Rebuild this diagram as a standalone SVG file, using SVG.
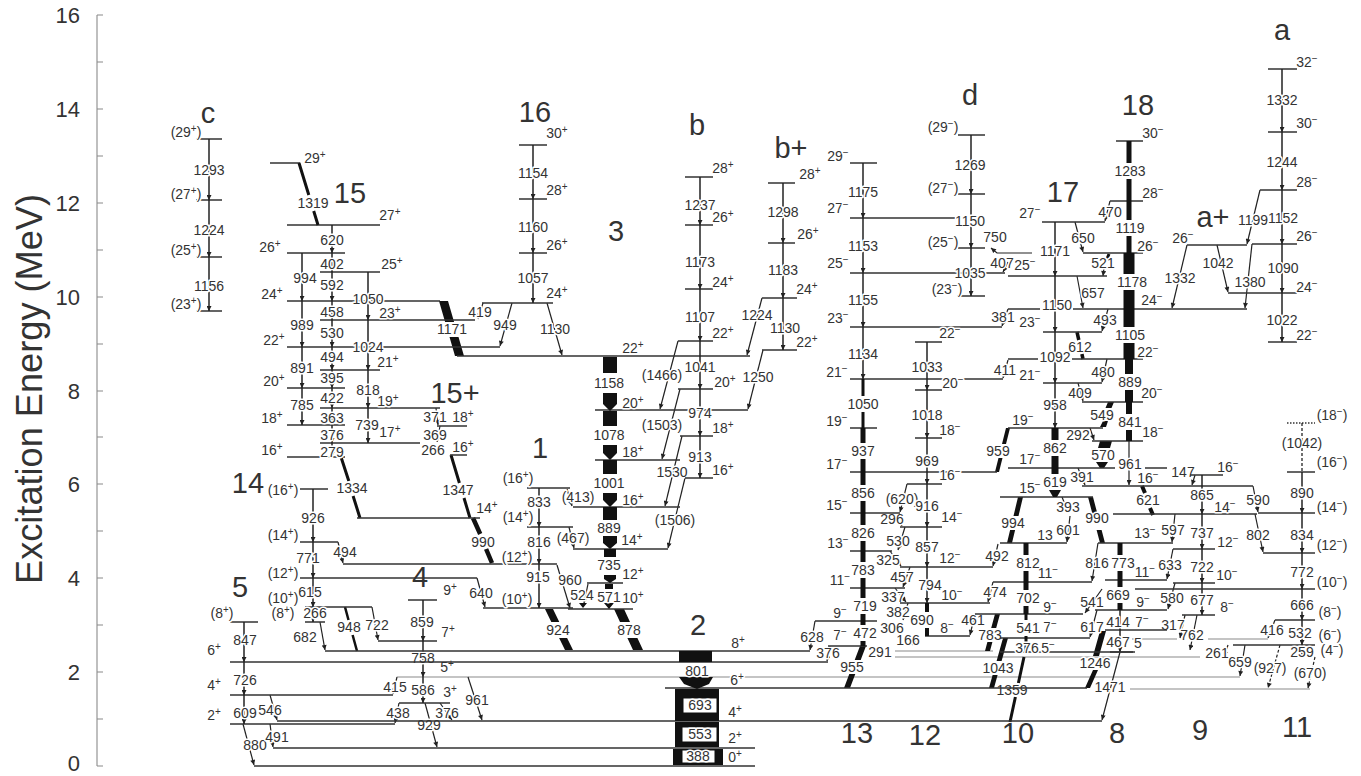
<svg xmlns="http://www.w3.org/2000/svg" width="1361" height="776" viewBox="0 0 1361 776">
<defs>
<marker id="ah" markerUnits="userSpaceOnUse" viewBox="0 0 6 6" refX="6" refY="3" markerWidth="6" markerHeight="5" orient="auto"><path d="M0,0L6,3L0,6z" fill="#222"/></marker>
<style>
.lv{stroke:#333;stroke-width:1.3;fill:none}
.lg{stroke:#8a8a8a;stroke-width:1.1;fill:none}
.tr{stroke:#222;stroke-width:1.2;fill:none;marker-end:url(#ah)}
.tv{stroke:#222;stroke-width:1.5;fill:none;marker-mid:url(#ah);marker-end:url(#ah)}
.tb{stroke:#111;fill:none}
.tk{fill:#111;stroke:none}
.ds{stroke-dasharray:3 2}
.dt{stroke-dasharray:1.5 1.5}
text{font-family:"Liberation Sans",Arial,sans-serif;fill:#333}
.n{font-size:14px;text-anchor:middle;paint-order:stroke;stroke:#fff;stroke-width:3px;stroke-linejoin:round}
.u{font-size:10px}
.b{font-size:29px;text-anchor:middle}
.ax{font-size:22px;text-anchor:end}
.bx{fill:#fff;stroke:#111;stroke-width:1}
</style>
</defs>
<rect width="1361" height="776" fill="#fff"/>
<g id="axis">
<line class="lg" x1="97" y1="15" x2="97" y2="766"/>
<path class="lg" d="M97,766h6M97,719h6M97,672h6M97,625h6M97,578h6M97,531h6M97,484h6M97,437h6M97,391h6M97,344h6M97,297h6M97,250h6M97,203h6M97,156h6M97,109h6M97,62h6M97,15h6"/>
<text class="ax" x="80" y="771">0</text>
<text class="ax" x="80" y="680">2</text>
<text class="ax" x="80" y="586">4</text>
<text class="ax" x="80" y="492">6</text>
<text class="ax" x="80" y="399">8</text>
<text class="ax" x="80" y="305">10</text>
<text class="ax" x="80" y="211">12</text>
<text class="ax" x="80" y="117">14</text>
<text class="ax" x="80" y="23">16</text>
<text transform="translate(42,389) rotate(-90)" style="font-size:36px;text-anchor:middle" textLength="390" lengthAdjust="spacingAndGlyphs">Excitation Energy (MeV)</text>
</g>
<g id="connectors">
<path class="lg" d="M397,677H1240M895,651H993M895,657H1200M1130,689H1310M1132,639H1177M1208,639H1268"/>
<path class="tr" d="M243,724L254,765"/>
<path class="tr" d="M270,695L277,720"/>
<path class="tr" d="M270,724L273,747"/>
<path class="tr" d="M320,622L325,650"/>
<path class="tr" d="M338,542L343,563"/>
<path class="tr" d="M372,607L378,640"/>
<path class="tr" d="M397,677L393,694"/>
<path class="tr" d="M399,703L395,723"/>
<path class="tr" d="M425,703L437,747"/>
<path class="tr" d="M440,703L452,720"/>
<path class="tr" d="M468,677L482,720"/>
<path class="tr" d="M477,578L485,607"/>
<path class="tr" d="M557,565L570,608"/>
<path class="tr" d="M567,489L572,506"/>
<path class="tr" d="M569,527L574,548"/>
<path class="tr" d="M483,303L478,319"/>
<path class="tr" d="M512,303L500,346"/>
<path class="tr" d="M547,303L562,355"/>
<path class="tr" d="M678,341L660,409"/>
<path class="tr" d="M680,389L662,459"/>
<path class="tr" d="M682,436L665,506"/>
<path class="tr" d="M685,478L668,548"/>
<path class="tr" d="M762,298L747,355"/>
<path class="tr" d="M763,350L748,409"/>
<path class="tr" d="M815,621L810,650"/>
<path class="tr" d="M830,646L827,661"/>
<path class="tr" d="M907,484L900,512"/>
<path class="tr" d="M893,513L902,526"/>
<path class="tr" d="M905,527L898,550"/>
<path class="tr" d="M890,551L901,566"/>
<path class="tr" d="M910,567L903,587"/>
<path class="tr" d="M895,588L906,602"/>
<path class="tr" d="M908,603L903,620"/>
<path class="tr" d="M915,636L912,645"/>
<path class="tr" d="M975,614L970,635"/>
<path class="tr" d="M998,544L993,566"/>
<path class="tr" d="M993,582L988,602"/>
<path class="tr" d="M1008,360L1003,378"/>
<path class="tr" d="M1008,309L1002,326"/>
<path class="tr" d="M1032,253H997L991,248"/>
<path class="tr" d="M1008,262L1003,272"/>
<path class="tr" d="M1110,201L1105,221"/>
<path class="tr" d="M1075,222L1083,252"/>
<path class="tr" d="M1077,276L1083,308"/>
<path class="tr" d="M1108,309L1102,331"/>
<path class="tr" d="M1107,359L1102,382"/>
<path class="tr" d="M1078,383L1083,401"/>
<path class="tr" d="M1090,428L1094,440"/>
<path class="tr" d="M1078,468L1085,485"/>
<path class="tr" d="M1195,475L1192,485"/>
<path class="tr" d="M1253,486L1258,512"/>
<path class="tr" d="M1175,514L1172,542"/>
<path class="tr" d="M1062,497L1068,512"/>
<path class="tr" d="M1070,516L1067,542"/>
<path class="tr" d="M1098,543L1092,581"/>
<path class="tr" d="M1173,549L1167,579"/>
<path class="tr" d="M1102,589L1085,613"/>
<path class="tr" d="M1175,583L1168,609"/>
<path class="tr" d="M1097,610L1090,637"/>
<path class="tr" d="M1185,615L1180,638"/>
<path class="tr" d="M1197,615L1190,650"/>
<path class="tr" d="M1275,620L1268,638"/>
<path class="tr" d="M1120,652L1102,720"/>
<path class="tr" d="M1245,645L1240,676"/>
<path class="tr" d="M1228,645L1224,656"/>
<path class="tr ds" d="M1280,645L1268,688"/>
<path class="tr ds" d="M1315,657L1308,688"/>
<path class="tr" d="M1260,190L1247,244"/>
<path class="tr" d="M1217,245L1228,292"/>
<path class="tr" d="M1187,245L1172,308"/>
<path class="tr" d="M1252,244L1245,308"/>
<path class="tr" d="M1255,514L1263,552"/>
<path class="tr" d="M588,584L584,603"/>
<path class="tr" d="M436,408L438,425"/>
<path class="tr" d="M440,426L437,442"/>
<path class="tk" d="M439,301L448,301L454.1,322L445.1,322ZM449.5,337L458.5,337L464,356L455,356Z"/>
<path class="tb" stroke-width="3" d="M341,457L348.8,481M353.1,496L360,518"/>
<path class="tb" stroke-width="3" d="M451,455L459.4,483M464,498L470,518"/>
<path class="tb" stroke-width="4.5" d="M473,518L480.2,534M486.1,549L492,563"/>
<path class="tb" stroke-width="2.5" d="M345,607L348.5,620M352.6,635L357,651"/>
<path class="tk" d="M545,609L553,609L559.3,622L551.3,622ZM559.1,638L567.1,638L573,650L565,650Z"/>
<path class="tk" d="M614,609L624,609L630,622L620,622ZM627.4,638L637.4,638L643,650L633,650Z"/>
<path class="tk" d="M860,646L866,646L860.7,660L854.7,660ZM849.3,674L855.3,674L850,688L844,688Z"/>
<path class="tk" d="M995,614L1000,614L996.2,628L991.2,628ZM987.4,642L992.4,642L990,651L985,651Z"/>
<path class="tk" d="M1003,638L1008,638L1001.6,661L996.6,661ZM992.6,675L997.6,675L994,688L989,688Z"/>
<path class="tb" stroke-width="3" d="M1024,657L1018.4,683M1015.4,697L1010,722"/>
<path class="tk" d="M1006,428L1010,428L1006,444L1002,444ZM998.5,458L1002.5,458L999,472L995,472Z"/>
<path class="tk" d="M1018,497L1023,497L1018.5,516L1013.5,516ZM1010.1,530L1015.1,530L1012,543L1007,543Z"/>
<path class="tk" d="M1088,497L1093,497L1098,516L1093,516ZM1096.6,530L1101.6,530L1105,543L1100,543Z"/>
<path class="tb" stroke-width="3.5" d="M1077,332L1078.8,340M1081.9,354L1083,359"/>
<path class="tk" d="M1108,402L1114,402L1111.5,408L1105.5,408ZM1103,421L1108,421L1106,427L1100,427Z"/>
<path class="tk" d="M1100,441L1112,441L1110,448L1098,448ZM1096,462L1108,462L1104,468L1100,468Z"/>
<path class="tb" stroke-width="3" d="M1109,254L1107,259"/>
<path class="tr" d="M1104,268L1103,276"/>
<path class="tb" stroke-width="4" d="M1142,486L1145,493M1150,508L1153,515"/>
<path class="tk" d="M1100,631L1106,631L1099,656L1093,656ZM1093,670L1098,670L1090,688L1085,688Z"/>
<text class="n" x="255" y="750">880</text>
<text class="n" x="270" y="715">546</text>
<text class="n" x="277" y="742">491</text>
<text class="n" x="305" y="642">682</text>
<text class="n" x="345" y="557">494</text>
<text class="n" x="349" y="632">948</text>
<text class="n" x="377" y="630">722</text>
<text class="n" x="395" y="692">415</text>
<text class="n" x="398" y="718">438</text>
<text class="n" x="429" y="730">929</text>
<text class="n" x="447" y="718">376</text>
<text class="n" x="477" y="705">961</text>
<text class="n" x="481" y="598">640</text>
<text class="n" x="570" y="585">960</text>
<text class="n" x="578" y="502">(413)</text>
<text class="n" x="573" y="543">(467)</text>
<text class="n" x="480" y="317">419</text>
<text class="n" x="505" y="330">949</text>
<text class="n" x="555" y="334">1130</text>
<text class="n" x="452" y="334">1171</text>
<text class="n" x="352" y="493">1334</text>
<text class="n" x="458" y="495">1347</text>
<text class="n" x="483" y="547">990</text>
<text class="n" x="558" y="635">924</text>
<text class="n" x="629" y="635">878</text>
<text class="n" x="582" y="600">524</text>
<text class="n" x="662" y="380">(1466)</text>
<text class="n" x="662" y="430">(1503)</text>
<text class="n" x="672" y="477">1530</text>
<text class="n" x="675" y="525">(1506)</text>
<text class="n" x="757" y="320">1224</text>
<text class="n" x="758" y="382">1250</text>
<text class="n" x="812" y="642">628</text>
<text class="n" x="828" y="658">376</text>
<text class="n" x="852" y="672">955</text>
<text class="n" x="880" y="657">291</text>
<text class="n" x="902" y="504">(620)</text>
<text class="n" x="892" y="524">296</text>
<text class="n" x="898" y="546">530</text>
<text class="n" x="888" y="565">325</text>
<text class="n" x="902" y="582">457</text>
<text class="n" x="893" y="602">337</text>
<text class="n" x="898" y="617">382</text>
<text class="n" x="892" y="633">306</text>
<text class="n" x="908" y="645">166</text>
<text class="n" x="973" y="625">461</text>
<text class="n" x="997" y="561">492</text>
<text class="n" x="995" y="597">474</text>
<text class="n" x="990" y="640">783</text>
<text class="n" x="998" y="673">1043</text>
<text class="n" x="1012" y="695">1359</text>
<text class="n" x="998" y="456">959</text>
<text class="n" x="1003" y="322">381</text>
<text class="n" x="1005" y="375">411</text>
<text class="n" x="995" y="242">750</text>
<text class="n" x="1002" y="268">407</text>
<text class="n" x="1110" y="217">470</text>
<text class="n" x="1083" y="243">650</text>
<text class="n" x="1103" y="268">521</text>
<text class="n" x="1093" y="298">657</text>
<text class="n" x="1105" y="325">493</text>
<text class="n" x="1080" y="352">612</text>
<text class="n" x="1103" y="377">480</text>
<text class="n" x="1080" y="398">409</text>
<text class="n" x="1102" y="420">549</text>
<text class="n" x="1078" y="440">292</text>
<text class="n" x="1103" y="460">570</text>
<text class="n" x="1082" y="482">391</text>
<text class="n" x="1068" y="512">393</text>
<text class="n" x="1097" y="523">990</text>
<text class="n" x="1013" y="528">994</text>
<text class="n" x="1068" y="535">601</text>
<text class="n" x="1148" y="505">621</text>
<text class="n" x="1183" y="477">147</text>
<text class="n" x="1258" y="505">590</text>
<text class="n" x="1173" y="535">597</text>
<text class="n" x="1170" y="570">633</text>
<text class="n" x="1172" y="603">580</text>
<text class="n" x="1173" y="630">317</text>
<text class="n" x="1192" y="640">762</text>
<text class="n" x="1217" y="658">261</text>
<text class="n" x="1240" y="667">659</text>
<text class="n" x="1270" y="673">(927)</text>
<text class="n" x="1310" y="678">(670)</text>
<text class="n" x="1272" y="635">416</text>
<text class="n" x="1258" y="540">802</text>
<text class="n" x="1097" y="568">816</text>
<text class="n" x="1092" y="607">541</text>
<text class="n" x="1092" y="632">617</text>
<text class="n" x="1095" y="668">1246</text>
<text class="n" x="1110" y="692">1471</text>
<text class="n" x="1253" y="225">1199</text>
<text class="n" x="1250" y="287">1380</text>
<text class="n" x="1218" y="268">1042</text>
<text class="n" x="1180" y="283">1332</text>
<text class="n" x="435" y="422">371</text>
<text class="n" x="435" y="440">369</text>
<text class="n" x="433" y="455">266</text>
</g>
<g id="band-c">
<path class="lv" d="M196,139H222M196,200H222M196,257H222M196,311H222"/>
<path class="tv" d="M209,139V200V257V311"/>
<text class="n" x="209" y="175">1293</text>
<text class="n" x="209" y="235">1224</text>
<text class="n" x="209" y="291">1156</text>
<text class="n" x="186" y="137">(29<tspan class="u" dy="-5">+</tspan><tspan dy="5">)</tspan></text>
<text class="n" x="186" y="199">(27<tspan class="u" dy="-5">+</tspan><tspan dy="5">)</tspan></text>
<text class="n" x="186" y="255">(25<tspan class="u" dy="-5">+</tspan><tspan dy="5">)</tspan></text>
<text class="n" x="186" y="309">(23<tspan class="u" dy="-5">+</tspan><tspan dy="5">)</tspan></text>
<text class="b" x="208" y="123">c</text>
</g>
<g id="band-15">
<path class="lv" d="M270,163H300M287,225H380M287,253H345M320,272H380M287,301H440M320,320H475M287,347H500M320,370H380M287,388H345M320,408H440M287,425H345M320,443H420M287,457H345"/>
<path class="tb" stroke-width="3" d="M299,163L308.8,195M313.7,211L318,225"/>
<path class="tv" d="M302,253V301V347V388V425"/>
<path class="tv" d="M332,225V253V272V301V320V347V370V388V408V425V443V457"/>
<path class="tv" d="M368,272V320V370V408V443"/>
<text class="n" x="313" y="208">1319</text>
<text class="n" x="332" y="245">620</text>
<text class="n" x="332" y="269">402</text>
<text class="n" x="305" y="283">994</text>
<text class="n" x="332" y="290">592</text>
<text class="n" x="368" y="304">1050</text>
<text class="n" x="332" y="317">458</text>
<text class="n" x="302" y="330">989</text>
<text class="n" x="332" y="338">530</text>
<text class="n" x="368" y="352">1024</text>
<text class="n" x="332" y="362">494</text>
<text class="n" x="302" y="373">891</text>
<text class="n" x="332" y="383">395</text>
<text class="n" x="368" y="395">818</text>
<text class="n" x="332" y="403">422</text>
<text class="n" x="302" y="410">785</text>
<text class="n" x="332" y="423">363</text>
<text class="n" x="367" y="430">739</text>
<text class="n" x="332" y="440">376</text>
<text class="n" x="332" y="457">279</text>
<text class="n" x="315" y="163">29<tspan class="u" dy="-5">+</tspan></text>
<text class="n" x="390" y="220">27<tspan class="u" dy="-5">+</tspan></text>
<text class="n" x="270" y="252">26<tspan class="u" dy="-5">+</tspan></text>
<text class="n" x="392" y="269">25<tspan class="u" dy="-5">+</tspan></text>
<text class="n" x="272" y="299">24<tspan class="u" dy="-5">+</tspan></text>
<text class="n" x="390" y="318">23<tspan class="u" dy="-5">+</tspan></text>
<text class="n" x="274" y="345">22<tspan class="u" dy="-5">+</tspan></text>
<text class="n" x="388" y="367">21<tspan class="u" dy="-5">+</tspan></text>
<text class="n" x="274" y="386">20<tspan class="u" dy="-5">+</tspan></text>
<text class="n" x="388" y="406">19<tspan class="u" dy="-5">+</tspan></text>
<text class="n" x="272" y="423">18<tspan class="u" dy="-5">+</tspan></text>
<text class="n" x="390" y="437">17<tspan class="u" dy="-5">+</tspan></text>
<text class="n" x="272" y="455">16<tspan class="u" dy="-5">+</tspan></text>
<text class="b" x="350" y="203">15</text>
</g>
<g id="band-15plus">
<path class="lv" d="M437,426H467M450,455H467M357,518H480"/>
<text class="n" x="463" y="422">18<tspan class="u" dy="-5">+</tspan></text>
<text class="n" x="463" y="452">16<tspan class="u" dy="-5">+</tspan></text>
<text class="n" x="487" y="513">14<tspan class="u" dy="-5">+</tspan></text>
<text class="b" x="455" y="403">15+</text>
</g>
<g id="band-16">
<path class="lv" d="M519,145H547M519,199H547M519,253H547M482,303H553"/>
<path class="tv" stroke-width="3" d="M533,145V199V253V303"/>
<text class="n" x="533" y="178">1154</text>
<text class="n" x="533" y="232">1160</text>
<text class="n" x="533" y="283">1057</text>
<text class="n" x="557" y="138">30<tspan class="u" dy="-5">+</tspan></text>
<text class="n" x="557" y="195">28<tspan class="u" dy="-5">+</tspan></text>
<text class="n" x="557" y="250">26<tspan class="u" dy="-5">+</tspan></text>
<text class="n" x="557" y="298">24<tspan class="u" dy="-5">+</tspan></text>
<text class="b" x="535" y="122">16</text>
</g>
<g id="band-3">
<path class="lv" d="M457,356H750M595,410H748M595,460H680M573,507H680M573,549H668M587,583H623M568,609H633"/>
<path class="tk" d="M603,357h14v16h-14zM603,393h14v11h-14zM603,404h14l-7,7zM603,411h14v15h-14zM603,445h14v8h-14zM603,453h14l-7,7zM603,460h14v14h-14zM603,493h14v7h-14zM603,500h14l-7,7zM603,507h14v13h-14zM603,536h14v7h-14zM603,543h14l-7,6zM604,549h12v8h-12zM604,575h12v4h-12zM604,579h12l-6,4zM605,584h8v5h-8zM604,603h10l-5,6zM579,603h8l-4,5z"/>
<text class="n" x="609" y="388">1158</text>
<text class="n" x="609" y="440">1078</text>
<text class="n" x="609" y="488">1001</text>
<text class="n" x="609" y="533">889</text>
<text class="n" x="609" y="570">735</text>
<text class="n" x="609" y="602">571</text>
<text class="n" x="633" y="353">22<tspan class="u" dy="-5">+</tspan></text>
<text class="n" x="633" y="408">20<tspan class="u" dy="-5">+</tspan></text>
<text class="n" x="633" y="457">18<tspan class="u" dy="-5">+</tspan></text>
<text class="n" x="633" y="505">16<tspan class="u" dy="-5">+</tspan></text>
<text class="n" x="632" y="545">14<tspan class="u" dy="-5">+</tspan></text>
<text class="n" x="633" y="579">12<tspan class="u" dy="-5">+</tspan></text>
<text class="n" x="633" y="603">10<tspan class="u" dy="-5">+</tspan></text>
<text class="b" x="616" y="241">3</text>
</g>
<g id="band-1">
<path class="lv" d="M527,488H570M527,527H573M343,564H557M483,608H573"/>
<path class="tv" d="M539,488V527V564V608"/>
<text class="n" x="539" y="507">833</text>
<text class="n" x="539" y="547">816</text>
<text class="n" x="538" y="582">915</text>
<text class="n" x="518" y="483">(16<tspan class="u" dy="-5">+</tspan><tspan dy="5">)</tspan></text>
<text class="n" x="518" y="522">(14<tspan class="u" dy="-5">+</tspan><tspan dy="5">)</tspan></text>
<text class="n" x="517" y="562">(12<tspan class="u" dy="-5">+</tspan><tspan dy="5">)</tspan></text>
<text class="n" x="517" y="604">(10<tspan class="u" dy="-5">+</tspan><tspan dy="5">)</tspan></text>
<text class="b" x="540" y="458">1</text>
</g>
<g id="band-14">
<path class="lv" d="M300,489H328M300,542H338M300,578H477M305,607H372M305,622H325"/>
<path class="tv" d="M313,489V542V578V607V622"/>
<text class="n" x="313" y="523">926</text>
<text class="n" x="308" y="563">771</text>
<text class="n" x="310" y="597">615</text>
<text class="n" x="315" y="618">266</text>
<text class="n" x="283" y="495">(16<tspan class="u" dy="-5">+</tspan><tspan dy="5">)</tspan></text>
<text class="n" x="283" y="540">(14<tspan class="u" dy="-5">+</tspan><tspan dy="5">)</tspan></text>
<text class="n" x="283" y="578">(12<tspan class="u" dy="-5">+</tspan><tspan dy="5">)</tspan></text>
<text class="n" x="283" y="603">(10<tspan class="u" dy="-5">+</tspan><tspan dy="5">)</tspan></text>
<text class="n" x="283" y="618">(8<tspan class="u" dy="-5">+</tspan><tspan dy="5">)</tspan></text>
<text class="b" x="248" y="493">14</text>
</g>
<g id="band-4">
<path class="lv" d="M408,600H437M378,641H437M399,703H450"/>
<path class="tv" d="M423,600V641V677V703"/>
<text class="n" x="422" y="627">859</text>
<text class="n" x="423" y="663">758</text>
<text class="n" x="423" y="695">586</text>
<text class="n" x="450" y="595">9<tspan class="u" dy="-5">+</tspan></text>
<text class="n" x="448" y="637">7<tspan class="u" dy="-5">+</tspan></text>
<text class="n" x="447" y="672">5<tspan class="u" dy="-5">+</tspan></text>
<text class="n" x="450" y="697">3<tspan class="u" dy="-5">+</tspan></text>
<text class="b" x="420" y="587">4</text>
</g>
<g id="band-5">
<path class="lv" d="M230,622H258M230,662H828M230,695H393M230,724H395"/>
<path class="tv" d="M244,622V662V695V724"/>
<text class="n" x="245" y="645">847</text>
<text class="n" x="245" y="685">726</text>
<text class="n" x="245" y="718">609</text>
<text class="n" x="222" y="618">(8<tspan class="u" dy="-5">+</tspan><tspan dy="5">)</tspan></text>
<text class="n" x="214" y="655">6<tspan class="u" dy="-5">+</tspan></text>
<text class="n" x="214" y="690">4<tspan class="u" dy="-5">+</tspan></text>
<text class="n" x="214" y="720">2<tspan class="u" dy="-5">+</tspan></text>
<text class="b" x="240" y="597">5</text>
</g>
<g id="band-2">
<path class="lv" d="M254,766H755M273,748H755M277,721H1102M665,688H1087M325,651H810"/>
<rect class="tk" x="679" y="651" width="33" height="11"/>
<path class="tk" d="M679,677H713L709,684L697,689L684,684Z"/>
<rect class="tk" x="675" y="689" width="44" height="32"/>
<rect class="bx" x="683" y="698" width="34" height="15"/>
<rect class="tk" x="675" y="722" width="44" height="25"/>
<rect class="bx" x="682" y="727" width="35" height="15"/>
<rect class="tk" x="673" y="749" width="50" height="16"/>
<rect class="bx" x="682" y="750" width="33" height="13"/>
<text class="n" x="697" y="676">801</text>
<text class="n" x="700" y="710">693</text>
<text class="n" x="700" y="739">553</text>
<text class="n" x="698" y="761">388</text>
<text class="n" x="738" y="648">8<tspan class="u" dy="-5">+</tspan></text>
<text class="n" x="737" y="685">6<tspan class="u" dy="-5">+</tspan></text>
<text class="n" x="735" y="717">4<tspan class="u" dy="-5">+</tspan></text>
<text class="n" x="735" y="743">2<tspan class="u" dy="-5">+</tspan></text>
<text class="n" x="735" y="762">0<tspan class="u" dy="-5">+</tspan></text>
<text class="b" x="698" y="635">2</text>
</g>
<g id="band-b">
<path class="lv" d="M685,177H713M685,225H713M685,289H713M678,341H713M678,389H713M680,436H713M685,478H713"/>
<path class="tv" d="M700,177V225V289V341V389V436V478"/>
<text class="n" x="700" y="210">1237</text>
<text class="n" x="700" y="267">1173</text>
<text class="n" x="700" y="322">1107</text>
<text class="n" x="700" y="372">1041</text>
<text class="n" x="700" y="418">974</text>
<text class="n" x="700" y="462">913</text>
<text class="n" x="723" y="173">28<tspan class="u" dy="-5">+</tspan></text>
<text class="n" x="723" y="222">26<tspan class="u" dy="-5">+</tspan></text>
<text class="n" x="723" y="287">24<tspan class="u" dy="-5">+</tspan></text>
<text class="n" x="723" y="338">22<tspan class="u" dy="-5">+</tspan></text>
<text class="n" x="725" y="387">20<tspan class="u" dy="-5">+</tspan></text>
<text class="n" x="723" y="433">18<tspan class="u" dy="-5">+</tspan></text>
<text class="n" x="723" y="475">16<tspan class="u" dy="-5">+</tspan></text>
<text class="b" x="697" y="135">b</text>
</g>
<g id="band-bplus">
<path class="lv" d="M768,183H795M768,243H795M762,298H797M762,350H797"/>
<path class="tv" d="M783,183V243V298V350"/>
<text class="n" x="783" y="217">1298</text>
<text class="n" x="783" y="275">1183</text>
<text class="n" x="785" y="333">1130</text>
<text class="n" x="810" y="179">28<tspan class="u" dy="-5">+</tspan></text>
<text class="n" x="808" y="239">26<tspan class="u" dy="-5">+</tspan></text>
<text class="n" x="807" y="294">24<tspan class="u" dy="-5">+</tspan></text>
<text class="n" x="807" y="347">22<tspan class="u" dy="-5">+</tspan></text>
<text class="b" x="791" y="158">b+</text>
</g>
<g id="band-13">
<path class="lv" d="M850,163H877M850,218H955M850,273H1005M850,327H1002M850,379H1003M850,428H877M850,472H997M850,513H900M850,551H892M850,588H905M815,621H877M828,646H867"/>
<path class="tv" d="M863,163V218V273V327V379"/>
<path class="tb" stroke-width="3" d="M863,379V396M863,412V428"/>
<path class="tb" stroke-width="5" d="M863,428V443M863,459V485M863,501V525M863,541V562M863,578V598M863,614V625M863,641V646"/>
<text class="n" x="863" y="197">1175</text>
<text class="n" x="863" y="251">1153</text>
<text class="n" x="863" y="305">1155</text>
<text class="n" x="863" y="359">1134</text>
<text class="n" x="863" y="409">1050</text>
<text class="n" x="863" y="456">937</text>
<text class="n" x="863" y="498">856</text>
<text class="n" x="863" y="538">826</text>
<text class="n" x="863" y="575">783</text>
<text class="n" x="865" y="611">719</text>
<text class="n" x="865" y="638">472</text>
<text class="n" x="838" y="161">29<tspan class="u" dy="-5">−</tspan></text>
<text class="n" x="838" y="213">27<tspan class="u" dy="-5">−</tspan></text>
<text class="n" x="838" y="268">25<tspan class="u" dy="-5">−</tspan></text>
<text class="n" x="838" y="323">23<tspan class="u" dy="-5">−</tspan></text>
<text class="n" x="837" y="377">21<tspan class="u" dy="-5">−</tspan></text>
<text class="n" x="837" y="426">19<tspan class="u" dy="-5">−</tspan></text>
<text class="n" x="837" y="469">17<tspan class="u" dy="-5">−</tspan></text>
<text class="n" x="837" y="510">15<tspan class="u" dy="-5">−</tspan></text>
<text class="n" x="838" y="548">13<tspan class="u" dy="-5">−</tspan></text>
<text class="n" x="840" y="585">11<tspan class="u" dy="-5">−</tspan></text>
<text class="n" x="840" y="618">9<tspan class="u" dy="-5">−</tspan></text>
<text class="n" x="840" y="640">7<tspan class="u" dy="-5">−</tspan></text>
<text class="b" x="857" y="743">13</text>
</g>
<g id="band-d">
<path class="lv" d="M958,135H985M958,194H985M958,248H985M957,296H985"/>
<path class="tv" d="M971,135V194V248V296"/>
<text class="n" x="970" y="170">1269</text>
<text class="n" x="970" y="226">1150</text>
<text class="n" x="970" y="278">1035</text>
<text class="n" x="943" y="132">(29<tspan class="u" dy="-5">−</tspan><tspan dy="5">)</tspan></text>
<text class="n" x="943" y="193">(27<tspan class="u" dy="-5">−</tspan><tspan dy="5">)</tspan></text>
<text class="n" x="943" y="247">(25<tspan class="u" dy="-5">−</tspan><tspan dy="5">)</tspan></text>
<text class="n" x="947" y="294">(23<tspan class="u" dy="-5">−</tspan><tspan dy="5">)</tspan></text>
<text class="b" x="970" y="105">d</text>
</g>
<g id="band-12">
<path class="lv" d="M915,342H942M915,390H942M915,438H942M907,484H942M900,527H942M900,567H993M900,603H990M925,636H970"/>
<path class="tv" d="M927,342V390V438V484V527V567V603"/>
<path class="tb" stroke-width="4" d="M927,603V612M927,628V636"/>
<text class="n" x="927" y="372">1033</text>
<text class="n" x="927" y="420">1018</text>
<text class="n" x="927" y="466">969</text>
<text class="n" x="927" y="511">916</text>
<text class="n" x="927" y="552">857</text>
<text class="n" x="930" y="590">794</text>
<text class="n" x="922" y="625">690</text>
<text class="n" x="950" y="338">22<tspan class="u" dy="-5">−</tspan></text>
<text class="n" x="953" y="388">20<tspan class="u" dy="-5">−</tspan></text>
<text class="n" x="950" y="435">18<tspan class="u" dy="-5">−</tspan></text>
<text class="n" x="950" y="480">16<tspan class="u" dy="-5">−</tspan></text>
<text class="n" x="952" y="522">14<tspan class="u" dy="-5">−</tspan></text>
<text class="n" x="950" y="563">12<tspan class="u" dy="-5">−</tspan></text>
<text class="n" x="952" y="600">10<tspan class="u" dy="-5">−</tspan></text>
<text class="n" x="947" y="633">8<tspan class="u" dy="-5">−</tspan></text>
<text class="b" x="925" y="745">12</text>
</g>
<g id="band-17">
<path class="lv" d="M1042,222H1105M1008,276H1107M1043,332H1102M1043,383H1102M1008,428H1103M1008,468H1115M1145,468H1167M1000,497H1093"/>
<path class="tv" stroke-width="3" d="M1055,222V276V332V383V428"/>
<path class="tb" stroke-width="7" d="M1055,428V440M1055,456V474"/>
<path class="tk" d="M1049,490H1061L1057,497H1053Z"/>
<text class="n" x="1055" y="256">1171</text>
<text class="n" x="1057" y="310">1150</text>
<text class="n" x="1055" y="362">1092</text>
<text class="n" x="1055" y="410">958</text>
<text class="n" x="1055" y="453">862</text>
<text class="n" x="1055" y="487">619</text>
<text class="n" x="1030" y="218">27<tspan class="u" dy="-5">−</tspan></text>
<text class="n" x="1025" y="270">25<tspan class="u" dy="-5">−</tspan></text>
<text class="n" x="1030" y="327">23<tspan class="u" dy="-5">−</tspan></text>
<text class="n" x="1030" y="380">21<tspan class="u" dy="-5">−</tspan></text>
<text class="n" x="1023" y="425">19<tspan class="u" dy="-5">−</tspan></text>
<text class="n" x="1030" y="464">17<tspan class="u" dy="-5">−</tspan></text>
<text class="n" x="1030" y="493">15<tspan class="u" dy="-5">−</tspan></text>
<text class="b" x="1063" y="202">17</text>
</g>
<g id="band-18">
<path class="lv" d="M1116,141H1143M1110,201H1143M1083,253H1143M1008,309H1040M1073,309H1247M1008,359H1038M1072,359H1143M1082,402H1143M1092,441H1143M1082,486H1253"/>
<path class="tb" stroke-width="5" d="M1129,141V163M1129,179V220M1129,236V253"/>
<path class="tb" stroke-width="11" d="M1129,253V274M1129,290V327M1129,343V359"/>
<path class="tb" stroke-width="8" d="M1129,359V374M1129,390V402"/>
<path class="tb" stroke-width="6" d="M1129,402V414M1129,430V441"/>
<path class="tr" stroke-width="1.5" d="M1129,441V485"/>
<text class="n" x="1130" y="176">1283</text>
<text class="n" x="1130" y="233">1119</text>
<text class="n" x="1132" y="287">1178</text>
<text class="n" x="1130" y="340">1105</text>
<text class="n" x="1130" y="387">889</text>
<text class="n" x="1130" y="427">841</text>
<text class="n" x="1130" y="469">961</text>
<text class="n" x="1153" y="138">30<tspan class="u" dy="-5">−</tspan></text>
<text class="n" x="1153" y="198">28<tspan class="u" dy="-5">−</tspan></text>
<text class="n" x="1148" y="251">26<tspan class="u" dy="-5">−</tspan></text>
<text class="n" x="1152" y="305">24<tspan class="u" dy="-5">−</tspan></text>
<text class="n" x="1148" y="357">22<tspan class="u" dy="-5">−</tspan></text>
<text class="n" x="1152" y="398">20<tspan class="u" dy="-5">−</tspan></text>
<text class="n" x="1153" y="437">18<tspan class="u" dy="-5">−</tspan></text>
<text class="n" x="1148" y="483">16<tspan class="u" dy="-5">−</tspan></text>
<text class="b" x="1138" y="115">18</text>
</g>
<g id="band-a">
<path class="lv" d="M1268,69H1297M1268,132H1297M1260,190H1297M1252,244H1297M1228,293H1297M1268,342H1297"/>
<path class="tv" d="M1282,69V132V190V244V293V342"/>
<text class="n" x="1282" y="105">1332</text>
<text class="n" x="1282" y="167">1244</text>
<text class="n" x="1283" y="223">1152</text>
<text class="n" x="1283" y="273">1090</text>
<text class="n" x="1282" y="325">1022</text>
<text class="n" x="1307" y="67">32<tspan class="u" dy="-5">−</tspan></text>
<text class="n" x="1307" y="128">30<tspan class="u" dy="-5">−</tspan></text>
<text class="n" x="1307" y="187">28<tspan class="u" dy="-5">−</tspan></text>
<text class="n" x="1307" y="241">26<tspan class="u" dy="-5">−</tspan></text>
<text class="n" x="1307" y="292">24<tspan class="u" dy="-5">−</tspan></text>
<text class="n" x="1307" y="340">22<tspan class="u" dy="-5">−</tspan></text>
<text class="b" x="1282" y="40">a</text>
</g>
<g id="band-aplus">
<path class="lv" d="M1187,245H1247"/>
<text class="n" x="1183" y="243">26<tspan class="u" dy="-5">−</tspan></text>
<text class="b" x="1213" y="227">a+</text>
</g>
<g id="band-9">
<path class="lv" d="M1190,475H1223M1113,514H1257M1173,549H1215M1173,583H1215M1182,615H1215"/>
<path class="tv" d="M1202,475V514V549V583V615"/>
<text class="n" x="1202" y="500">865</text>
<text class="n" x="1202" y="538">737</text>
<text class="n" x="1202" y="572">722</text>
<text class="n" x="1202" y="605">677</text>
<text class="n" x="1228" y="472">16<tspan class="u" dy="-5">−</tspan></text>
<text class="n" x="1225" y="512">14<tspan class="u" dy="-5">−</tspan></text>
<text class="n" x="1228" y="547">12<tspan class="u" dy="-5">−</tspan></text>
<text class="n" x="1227" y="580">10<tspan class="u" dy="-5">−</tspan></text>
<text class="n" x="1227" y="612">8<tspan class="u" dy="-5">−</tspan></text>
<text class="b" x="1200" y="740">9</text>
</g>
<g id="band-8">
<path class="lv" d="M1098,543H1173M1105,580H1167M1095,610H1167M1105,630H1167M1110,652H1133"/>
<path class="tb" stroke-width="5" d="M1120,543V555M1120,571V587M1120,603V610"/>
<path class="tv" d="M1120,610V630V652"/>
<text class="n" x="1123" y="568">773</text>
<text class="n" x="1118" y="600">669</text>
<text class="n" x="1118" y="627">414</text>
<text class="n" x="1118" y="647">467</text>
<text class="n" x="1145" y="538">13<tspan class="u" dy="-5">−</tspan></text>
<text class="n" x="1145" y="577">11<tspan class="u" dy="-5">−</tspan></text>
<text class="n" x="1143" y="607">9<tspan class="u" dy="-5">−</tspan></text>
<text class="n" x="1142" y="627">7<tspan class="u" dy="-5">−</tspan></text>
<text class="n" x="1138" y="648">5</text>
<text class="b" x="1117" y="743">8</text>
</g>
<g id="band-10">
<path class="lv" d="M1000,543H1067M993,582H1092M975,614H1083M1000,638H1090M1000,652H1135"/>
<path class="tb" stroke-width="5" d="M1026,543V555M1026,571V590M1026,606V614"/>
<path class="tb" stroke-width="3" d="M1026,614V620M1026,636V652"/>
<text class="n" x="1028" y="568">812</text>
<text class="n" x="1028" y="603">702</text>
<text class="n" x="1028" y="633">541</text>
<text class="n" x="1027" y="653">376</text>
<text class="n" x="1045" y="540">13</text>
<text class="n" x="1048" y="578">11<tspan class="u" dy="-5">−</tspan></text>
<text class="n" x="1050" y="612">9<tspan class="u" dy="-5">−</tspan></text>
<text class="n" x="1050" y="632">7<tspan class="u" dy="-5">−</tspan></text>
<text class="n" x="1048" y="653">5<tspan class="u" dy="-5">−</tspan></text>
<text class="b" x="1018" y="743">10</text>
</g>
<g id="band-11">
<path class="lv dt" d="M1287,423H1315"/>
<path class="lv" d="M1287,472H1315M1258,513H1315M1263,553H1315M1135,589H1315M1275,620H1315M1233,645H1315"/>
<path class="tb ds" stroke-width="1.2" d="M1302,423V472"/>
<path class="tv" d="M1302,472V513V553V589V620V645V656"/>
<text class="n" x="1302" y="448">(1042)</text>
<text class="n" x="1302" y="498">890</text>
<text class="n" x="1302" y="540">834</text>
<text class="n" x="1302" y="577">772</text>
<text class="n" x="1302" y="610">666</text>
<text class="n" x="1300" y="638">532</text>
<text class="n" x="1302" y="657">259</text>
<text class="n" x="1332" y="420">(18<tspan class="u" dy="-5">−</tspan><tspan dy="5">)</tspan></text>
<text class="n" x="1332" y="467">(16<tspan class="u" dy="-5">−</tspan><tspan dy="5">)</tspan></text>
<text class="n" x="1332" y="512">(14<tspan class="u" dy="-5">−</tspan><tspan dy="5">)</tspan></text>
<text class="n" x="1332" y="550">(12<tspan class="u" dy="-5">−</tspan><tspan dy="5">)</tspan></text>
<text class="n" x="1332" y="587">(10<tspan class="u" dy="-5">−</tspan><tspan dy="5">)</tspan></text>
<text class="n" x="1330" y="617">(8<tspan class="u" dy="-5">−</tspan><tspan dy="5">)</tspan></text>
<text class="n" x="1330" y="640">(6<tspan class="u" dy="-5">−</tspan><tspan dy="5">)</tspan></text>
<text class="n" x="1332" y="655">(4<tspan class="u" dy="-5">−</tspan><tspan dy="5">)</tspan></text>
<text class="b" x="1297" y="737">11</text>
</g>
</svg>
